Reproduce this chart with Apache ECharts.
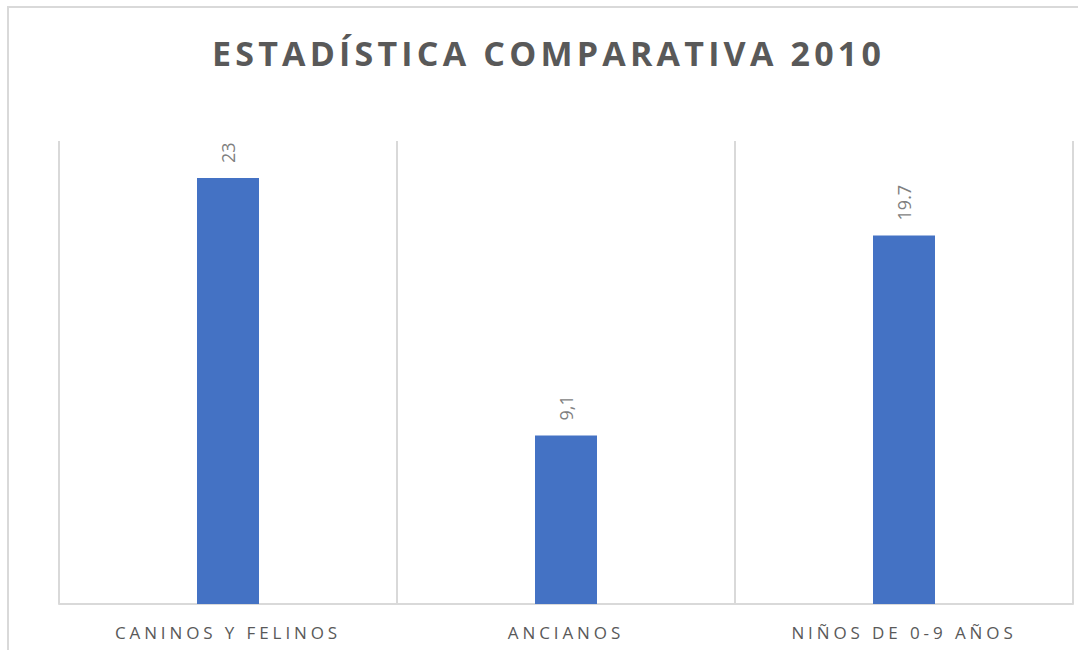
<!DOCTYPE html>
<html>
<head>
<meta charset="utf-8">
<script src="https://cdn.jsdelivr.net/npm/echarts@6/dist/echarts.min.js"></script>
<style>
  html, body { margin: 0; padding: 0; background: #ffffff; }
  #chart { width: 1078px; height: 650px; }
  /* letter spacing for title and category labels */
  #chart text[style*="34px"] { letter-spacing: 4.2px; }
  #chart text[style*="17px"] { letter-spacing: 3.9px; }
</style>
</head>
<body>
<div id="chart"></div>
<script>
// datos
var categorias = ["CANINOS Y FELINOS", "ANCIANOS", "NIÑOS DE 0-9 AÑOS"];
var valores = [23, 9.1, 19.9];
var etiquetas = ["23", "9,1", "19.7"];

var chart = echarts.init(document.getElementById("chart"), null, { renderer: "svg" });
chart.setOption({
  animation: false,
  backgroundColor: "#ffffff",
  title: {
    text: "ESTADÍSTICA COMPARATIVA 2010",
    left: 207,
    top: 31,
    textStyle: {
      fontFamily: "Open Sans",
      fontSize: 34,
      fontWeight: "bold",
      color: "#595959"
    }
  },
  // borde del grafico
  graphic: [
    {
      type: "rect",
      silent: true,
      shape: { x: 8, y: 7, width: 1100, height: 700 },
      style: { fill: "none", stroke: "#d9d9d9", lineWidth: 2 }
    }
  ],
  grid: {
    left: 59,
    right: 5,
    top: 141,
    bottom: 46
  },
  xAxis: {
    type: "category",
    data: categorias,
    axisLine: { lineStyle: { color: "#d9d9d9", width: 2 } },
    axisTick: { show: false },
    splitLine: { show: true, lineStyle: { color: "#d9d9d9", width: 2 } },
    axisLabel: {
      margin: 20,
      fontFamily: "Open Sans",
      fontSize: 17,
      color: "#595959"
    }
  },
  yAxis: {
    type: "value",
    min: 0,
    max: 25,
    show: false,
    splitLine: { show: false }
  },
  series: [
    {
      type: "bar",
      data: valores,
      barWidth: 62,
      itemStyle: { color: "#4472c4" },
      label: {
        show: true,
        position: "top",
        rotate: 90,
        align: "left",
        verticalAlign: "middle",
        distance: 15,
        fontFamily: "Open Sans",
        fontSize: 18,
        color: "#7f7f7f",
        formatter: function (p) {
          return etiquetas[p.dataIndex];
        }
      }
    }
  ]
});
</script>
</body>
</html>
